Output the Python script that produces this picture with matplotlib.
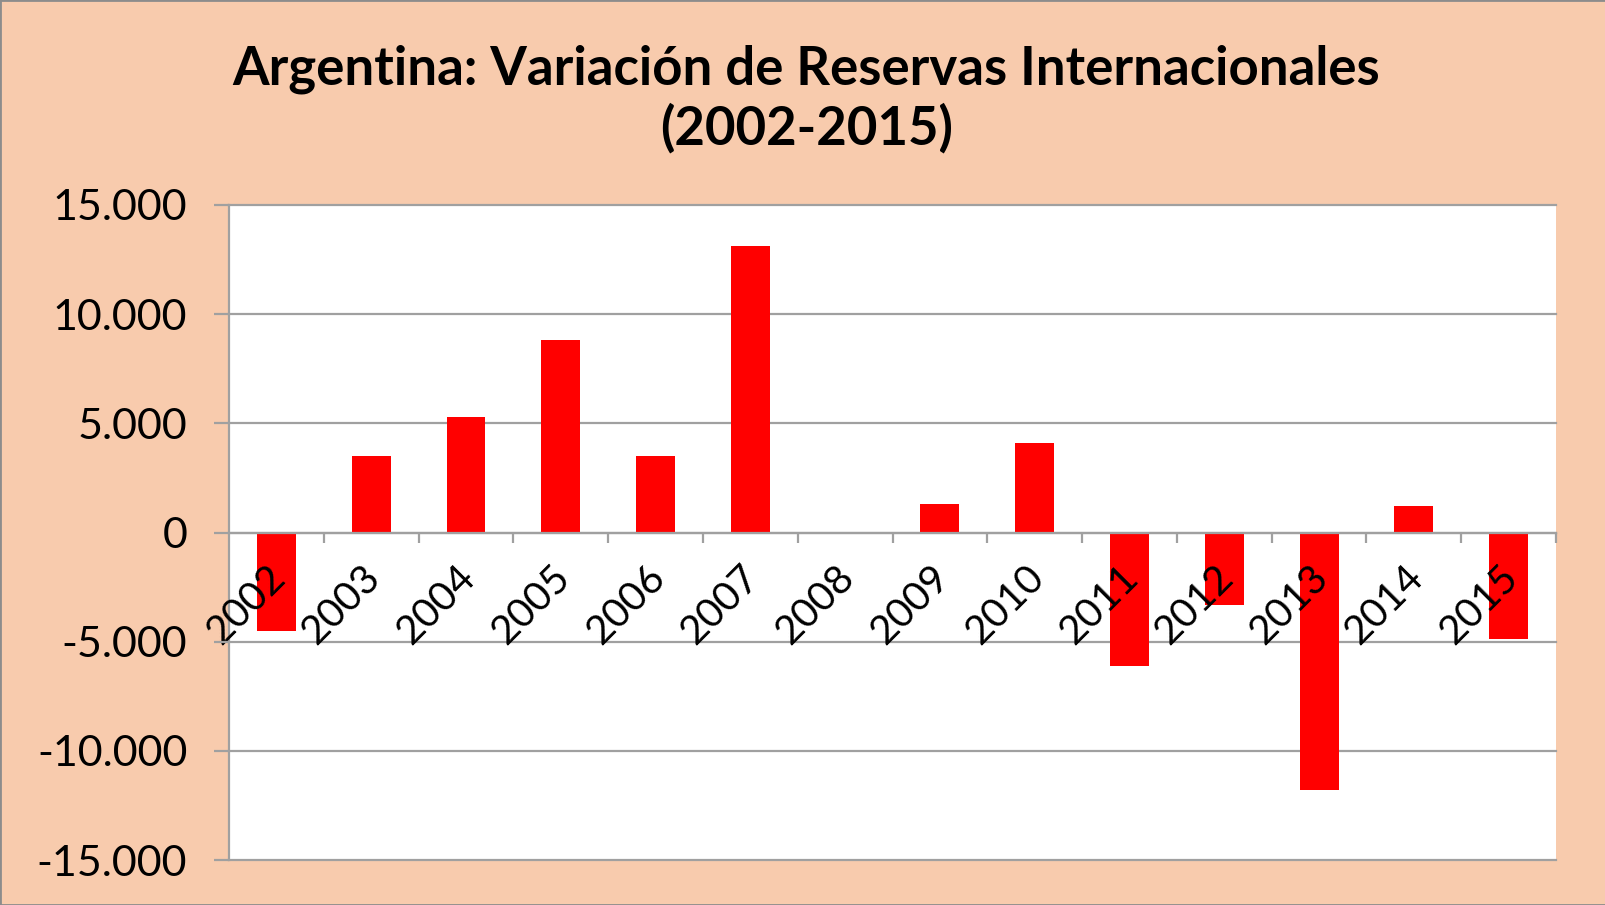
import matplotlib
import numpy as np
from matplotlib import pyplot as plt
from matplotlib.patches import Rectangle
from matplotlib.ticker import FuncFormatter, FixedLocator
import matplotlib.transforms as mtransforms

matplotlib.use("Agg")

years = [str(y) for y in range(2002, 2016)]
variacion = [-4500, 3500, 5300, 8800, 3500, 13100, 0,
             1300, 4100, -6100, -3300, -11800, 1200, -4900]
y_ticks = [-15000, -10000, -5000, 0, 5000, 10000, 15000]

BG = "#F8CBAD"
GRID = "#A0A0A0"
FONT = "Lato"


def miles(v, _pos):
    return f"{int(v):,}".replace(",", ".")


fig = plt.figure(figsize=(16.06, 9.05), dpi=100, facecolor=BG)
fig.patches.append(Rectangle((0, 0), 1, 1, transform=fig.transFigure,
                             fill=False, edgecolor="#8C8C8C", linewidth=2))

ax = fig.add_axes([0.1426, 0.0497, 0.8263, 0.7238])
ax.set_facecolor("white")

x = np.arange(len(years))
# gridlines drawn by hand so the bars cover them but tick labels stay on top
for yv in y_ticks:
    ax.axhline(yv, color=GRID, linewidth=1.6, clip_on=False, zorder=0.8)
ax.bar(x, variacion, width=0.41, color="#FF0000", zorder=1)
ax.set_axisbelow(False)

ax.set_xlim(-0.5, len(years) - 0.5)
ax.set_ylim(y_ticks[0], y_ticks[-1])
ax.set_yticks(y_ticks)
ax.yaxis.set_major_formatter(FuncFormatter(miles))

ax.spines["right"].set_visible(False)
ax.spines["top"].set_visible(False)
ax.spines["left"].set_color(GRID)
ax.spines["left"].set_linewidth(1.6)
ax.spines["bottom"].set_position(("data", 0))
ax.spines["bottom"].set_color(GRID)
ax.spines["bottom"].set_linewidth(1.6)

ax.set_xticks(x)
ax.set_xticklabels(years)
ax.xaxis.set_minor_locator(FixedLocator(np.arange(0.5, len(years), 1.0)))
ax.tick_params(axis="x", which="major", length=0, pad=19)
ax.tick_params(axis="x", which="minor", length=7, width=1.6, color=GRID, direction="out")
ax.tick_params(axis="y", length=11, width=1.6, color=GRID, direction="out", pad=19)

offset = mtransforms.ScaledTranslation(-0.1, 0, fig.dpi_scale_trans)
for lab in ax.get_xticklabels():
    lab.set_rotation(45)
    lab.set_ha("right")
    lab.set_va("top")
    lab.set_rotation_mode("anchor")
    lab.set_fontfamily(FONT)
    lab.set_fontsize(29)
    lab.set_transform(lab.get_transform() + offset)
for lab in ax.get_yticklabels():
    lab.set_fontfamily(FONT)
    lab.set_fontsize(31)

fig.text(0.502, 0.924, "Argentina: Variación de Reservas Internacionales",
         ha="center", va="center", fontsize=38, fontweight="bold", family=FONT)
fig.text(0.502, 0.858, "(2002-2015)",
         ha="center", va="center", fontsize=38, fontweight="bold", family=FONT)

fig.savefig("out.png", dpi=100, facecolor=BG)
